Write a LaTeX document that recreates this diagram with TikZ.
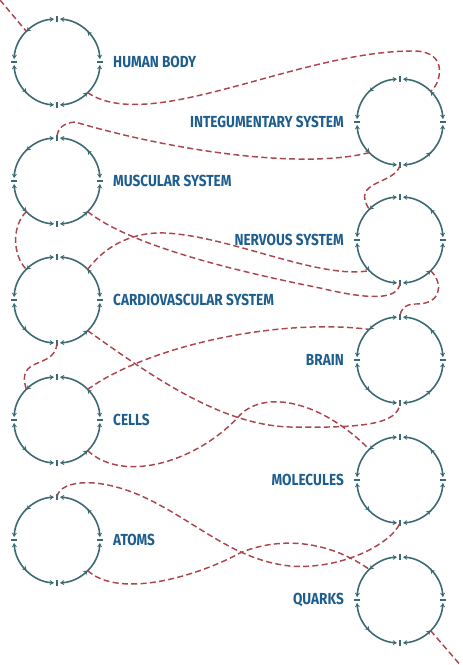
\documentclass[tikz,border=0pt]{standalone}
\usepackage{fontspec}
\usepackage{tikz}
\newfontfamily\labelfont{Fira Sans}[FakeStretch=0.85]
\definecolor{ringcol}{RGB}{60, 106, 115}
\definecolor{labelcol}{RGB}{30, 94, 142}
\definecolor{linkcol}{RGB}{170, 70, 76}
\usetikzlibrary{arrows.meta, positioning, decorations.markings}

\tikzset{
  ring/.style={circle, minimum size=64.5pt, inner sep=0pt},
  ringarc/.style={draw=ringcol, line width=1.2pt,
    {Stealth[length=3.2pt,width=3.8pt]}-{Stealth[length=3.2pt,width=3.8pt]},
    postaction={decorate},
    decoration={markings, mark=at position 0.5 with {\arrow[ringcol]{Stealth[length=3.2pt,width=3.8pt]}}}},
  ringtick/.style={draw=ringcol, line width=1.2pt},
  lbl/.style={inner sep=0pt, text=labelcol, font=\labelfont\bfseries\fontsize{12}{14}\selectfont},
  link/.style={draw=linkcol, line width=1.1pt, dash pattern=on 4.5pt off 2.5pt}
}

\begin{document}
\begin{tikzpicture}[x=0.75pt, y=0.75pt]
  \useasboundingbox (0,0) rectangle (462,-665);

  \node[ring] (body)      at (57,-62)  {};
  \node[ring] (muscular)  at (57,-181) {};
  \node[ring] (cardio)    at (57,-300) {};
  \node[ring] (cells)     at (57,-420) {};
  \node[ring] (atoms)     at (57,-540) {};
  \node[ring] (integ)     at (400,-122) {};
  \node[ring] (nervous)   at (400,-240) {};
  \node[ring] (brain)     at (400,-360) {};
  \node[ring] (molecules) at (400,-480) {};
  \node[ring] (quarks)    at (400,-600) {};

  \foreach \n in {body,muscular,cardio,cells,atoms,integ,nervous,brain,molecules,quarks}
    \foreach \a in {0,90,180,270}{
      \draw[ringarc] ([shift={(\a+4:43)}]\n.center) arc[start angle=\a+4, end angle=\a+86, radius=43];
      \draw[ringtick] ([shift={(\a:40)}]\n.center) -- ([shift={(\a:46)}]\n.center);
    }

  \node[lbl, right=9.5pt of body]     (tbody)      {HUMAN BODY};
  \node[lbl, right=9.5pt of muscular] (tmuscular)  {MUSCULAR SYSTEM};
  \node[lbl, right=9.5pt of cardio]   (tcardio)    {CARDIOVASCULAR SYSTEM};
  \node[lbl, right=9.5pt of cells]    (tcells)     {CELLS};
  \node[lbl, right=9.5pt of atoms]    (tatoms)     {ATOMS};
  \node[lbl, left=9.5pt of integ]     (tinteg)     {INTEGUMENTARY SYSTEM};
  \node[lbl, left=9.5pt of nervous]   (tnervous)   {NERVOUS SYSTEM};
  \node[lbl, left=9.5pt of brain]     (tbrain)     {BRAIN};
  \node[lbl, left=9.5pt of molecules] (tmolecules) {MOLECULES};
  \node[lbl, left=9.5pt of quarks]    (tquarks)    {QUARKS};

  \coordinate (start)  at (0,0);
  \coordinate (finish) at (462,-667);

  \draw[link] (start) -- (body.135);
  \draw[link] (body.315) .. controls (150,-135) and (300,-50) .. (415,-51)
              .. controls (450,-52) and (440,-85) .. (integ.45);
  \draw[link] (integ.225) .. controls (300,-170) and (170,-150) .. (75,-122)
              .. controls (62,-123) and (57,-130) .. (muscular.90);
  \draw[link] (integ.270) .. controls (395,-185) and (350,-180) .. (nervous.135);
  \draw[link] (muscular.225) .. controls (12,-225) and (12,-255) .. (cardio.135);
  \draw[link] (muscular.315) .. controls (130,-245) and (230,-270) .. (320,-288)
              .. controls (370,-300) and (398,-300) .. (nervous.270);
  \draw[link] (cardio.45) .. controls (110,-240) and (140,-232) .. (165,-233)
              .. controls (230,-236) and (320,-280) .. (nervous.225);
  \draw[link] (nervous.315) .. controls (445,-285) and (440,-305) .. (415,-304)
              .. controls (405,-304) and (400,-310) .. (brain.90);
  \draw[link] (cardio.270) .. controls (55,-370) and (15,-355) .. (cells.135);
  \draw[link] (cardio.315) .. controls (150,-375) and (220,-425) .. (290,-427)
              .. controls (360,-428) and (398,-425) .. (brain.270);
  \draw[link] (cells.45) .. controls (150,-345) and (280,-318) .. (brain.135);
  \draw[link] (cells.315) .. controls (125,-485) and (200,-460) .. (240,-415)
              .. controls (265,-390) and (320,-400) .. (molecules.135);
  \draw[link] (atoms.90) .. controls (60,-480) and (100,-475) .. (150,-500)
              .. controls (200,-525) and (235,-560) .. (290,-566)
              .. controls (340,-570) and (390,-545) .. (molecules.270);
  \draw[link] (atoms.315) .. controls (120,-600) and (200,-575) .. (240,-553)
              .. controls (270,-540) and (320,-535) .. (quarks.135);
  \draw[link] (quarks.315) -- (finish);
\end{tikzpicture}
\end{document}
